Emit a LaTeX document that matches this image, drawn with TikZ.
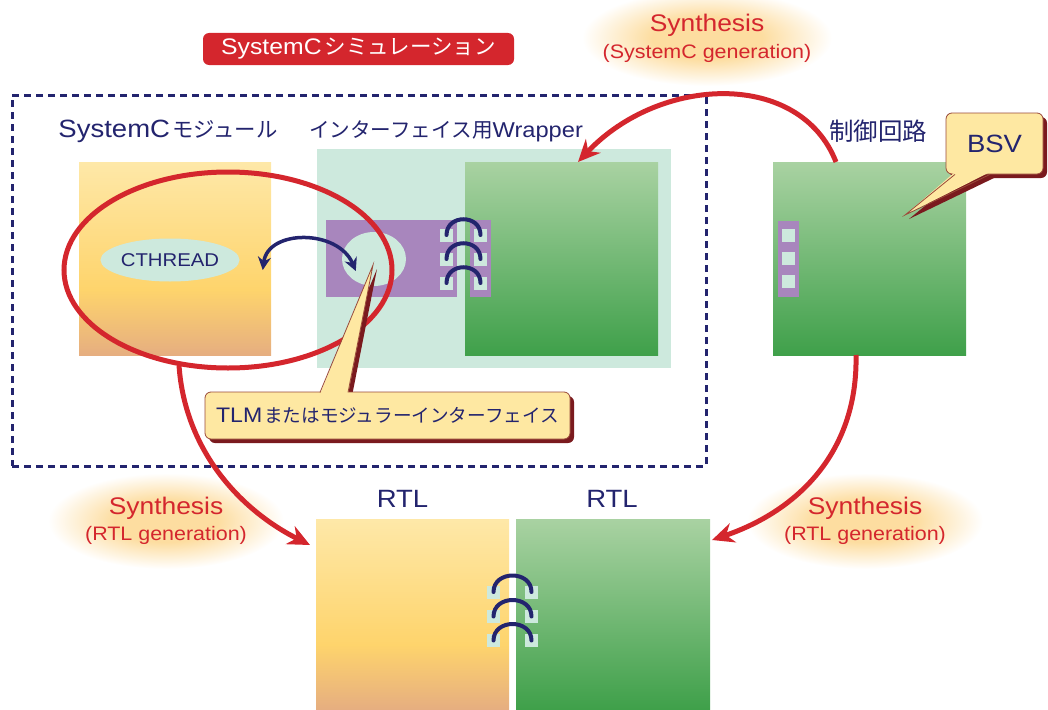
\documentclass[tikz,border=0pt]{standalone}
\usepackage{fontspec}
\setmainfont[FakeStretch=1.1]{Liberation Sans}
\newfontfamily\jp{Noto Sans CJK JP}
\usetikzlibrary{arrows.meta,shapes.geometric}

% Latin text at size #1, Japanese text at size #2
\newcommand\lat[2]{{\fontsize{#1}{#1}\selectfont #2}}
\newcommand\jtx[2]{{\jp\fontsize{#1}{#1}\selectfont #2}}

\definecolor{navy}{HTML}{23246E}
\definecolor{sred}{HTML}{D4262D}
\definecolor{mint}{HTML}{CDE9DD}
\definecolor{lilac}{HTML}{A886BD}
\definecolor{orgtop}{HTML}{FEE8A8}
\definecolor{orgmid}{HTML}{FED46C}
\definecolor{orgbot}{HTML}{E6AE80}
\definecolor{grntop}{HTML}{A9D2A2}
\definecolor{grnbot}{HTML}{3FA04A}
\definecolor{callfill}{HTML}{FEE8A2}
\definecolor{callline}{HTML}{9A4A3A}
\definecolor{callshadow}{HTML}{7A1A1E}
\definecolor{glowc}{HTML}{FDDDA0}

\pgfdeclareradialshading{glowshade}{\pgfpoint{0bp}{0bp}}{%
  color(0bp)=(glowc); color(11bp)=(glowc); color(25bp)=(white); color(50bp)=(white)}
\pgfdeclareverticalshading{orangeshade}{100bp}{%
  color(0bp)=(orgbot); color(25bp)=(orgbot); color(42bp)=(orgmid); color(75bp)=(orgtop); color(100bp)=(orgtop)}

\tikzset{
  box/.style={rectangle, inner sep=0pt, outer sep=0pt, anchor=north west},
  orangeblock/.style={box, shade, shading=orangeshade},
  greenblock/.style={box, top color=grntop, bottom color=grnbot},
  port/.style={rectangle, inner sep=0pt, fill=mint, minimum width=13pt, minimum height=13pt},
  strip/.style={box, fill=lilac},
  link/.style={draw=navy, line width=4pt, line cap=round},
  lbl/.style={text=navy, inner sep=0pt},
  synlbl/.style={text=sred, inner sep=0pt},
  synarrow/.style={draw=sred, line width=5pt, -{Stealth[length=22pt,width=20pt]}},
  callbox/.style={rectangle, rounded corners=6pt, fill=callfill, draw=callline, line width=0.8pt},
  callshade/.style={rectangle, rounded corners=6pt, fill=callshadow},
  frame/.style={draw=navy, line width=3pt, dash pattern=on 7pt off 5pt},
  txarrow/.style={draw=navy, line width=3.5pt, {Stealth[length=13pt,width=13pt]}-{Stealth[length=13pt,width=13pt]}},
}

\begin{document}
\begin{tikzpicture}[x=1pt,y=-1pt]
\useasboundingbox (0,0) rectangle (1048,709);

% soft glows behind the synthesis labels
\shade[shading=glowshade] (707,38) ellipse [x radius=125, y radius=48];
\shade[shading=glowshade] (166,521) ellipse [x radius=118, y radius=48];
\shade[shading=glowshade] (865,521) ellipse [x radius=118, y radius=48];

% simulation title
\node[rectangle, rounded corners=6pt, fill=sred, text=white, inner sep=0pt,
      minimum width=311pt, minimum height=32pt]
      (simtitle) at (358.5,49) {\lat{22.5}{SystemC}\hspace{3pt}\jtx{21.5}{シミュレーション}};

% simulation boundary
\node[box, frame, minimum width=694pt, minimum height=371pt] (simframe) at (12,95) {};

% SystemC module
\node[orangeblock, minimum width=192pt, minimum height=193pt] (scmod) at (79,162) {};
\node[ellipse, fill=mint, inner sep=0pt, minimum width=115pt, minimum height=43pt,
      text=navy] (cthread) at (170,260) {\lat{18.5}{CTHREAD}};

% interface wrapper
\node[box, fill=mint, minimum width=354pt, minimum height=219pt] (wrap) at (317,149) {};
\node[greenblock, minimum width=193pt, minimum height=193pt] (g1) at (465,162) {};
\node[strip, minimum width=131pt, minimum height=77pt] (ifbox) at (326,220) {};
\node[ellipse, fill=mint, inner sep=0pt, minimum width=64pt, minimum height=54pt] (ifell) at (374,259) {};
\node[strip, minimum width=21pt, minimum height=77pt] (g1strip) at (470,220) {};

\node[port] (wl1) at (446.5,235) {};
\node[port] (wl2) at (446.5,259) {};
\node[port] (wl3) at (446.5,283) {};
\node[port] (wr1) at (480.5,235) {};
\node[port] (wr2) at (480.5,259) {};
\node[port] (wr3) at (480.5,283) {};
\foreach \i in {1,2,3}
  \draw[link] (wl\i.center) .. controls +(0,-21) and +(0,-21) .. (wr\i.center);

% transaction between CTHREAD and the wrapper
\draw[txarrow] ([xshift=23pt,yshift=-10pt]cthread.east) .. controls (268,229) and (338,229) .. ([xshift=14pt,yshift=-12pt]ifell.west);

% control circuit
\node[greenblock, minimum width=193pt, minimum height=193pt] (ctrl) at (773,162) {};
\node[strip, minimum width=21pt, minimum height=76pt] (ctrlstrip) at (778,221) {};
\node[port] (c1) at (788.5,235.5) {};
\node[port] (c2) at (788.5,258.5) {};
\node[port] (c3) at (788.5,281.5) {};

% generated RTL
\node[orangeblock, minimum width=193pt, minimum height=190pt] (rtlA) at (316,519) {};
\node[greenblock, minimum width=194pt, minimum height=190pt] (rtlB) at (516,519) {};
\node[port] (bl1) at (493.5,592) {};
\node[port] (bl2) at (493.5,616.5) {};
\node[port] (bl3) at (493.5,640.5) {};
\node[port] (br1) at (531.5,592) {};
\node[port] (br2) at (531.5,616.5) {};
\node[port] (br3) at (531.5,640.5) {};
\foreach \i in {1,2,3}
  \draw[link] (bl\i.center) .. controls +(0,-22) and +(0,-22) .. (br\i.center);

% red ring around the SystemC side
\node[ellipse, draw=sred, line width=5pt, inner sep=0pt,
      minimum width=328pt, minimum height=196pt] (ring) at (228,270) {};

% TLM callout
\node[callshade, minimum width=365pt, minimum height=47pt] (tlmshade) at (391.5,419.5) {};
\fill[callshadow] (324,396) -- (377,269) -- (352,396) -- cycle;
\node[callbox, minimum width=365pt, minimum height=47pt, text=navy] (tlm) at (387.5,415.5)
  {\lat{21}{TLM}\hspace{2pt}\jtx{18.6}{またはモジュラーインターフェイス}};
\coordinate (tlmtip) at (373,265);
\fill[callfill] (320,394) -- (tlmtip) -- (348,394) -- cycle;
\draw[callline, line width=0.8pt] (320,392.4) -- (tlmtip) -- (348,392.4);

% BSV callout
\node[callshade, minimum width=97pt, minimum height=61pt] (bsvshade) at (998.5,147.5) {};
\fill[callshadow] (959,178) -- (909,219) -- (994,178) -- cycle;
\node[callbox, minimum width=97pt, minimum height=61pt, text=navy] (bsv) at (994.5,143.5) {\lat{25}{BSV}};
\coordinate (bsvtip) at (905,215);
\fill[callfill] (955,172) -- (bsvtip) -- (990,172) -- cycle;
\draw[callline, line width=0.8pt] (955,174.4) -- (bsvtip) -- (990,174.4);

% synthesis flows
\draw[synarrow] ([xshift=-33.5pt]ctrl.north) .. controls (800,70) and (660,75) .. ([xshift=16.5pt]g1.north);
\draw[synarrow] (ring.-117) .. controls (185,450) and (240,510) .. ([xshift=-6pt,yshift=-26pt]rtlA.north west);
\draw[synarrow] ([xshift=-13.5pt]ctrl.south) .. controls (858,450) and (800,510) .. ([xshift=2pt,yshift=-21pt]rtlB.north east);

% labels
\node[lbl] (scmodlbl) at (168,131) {\lat{25}{SystemC}\hspace{2pt}\jtx{21.4}{モジュール}};
\node[lbl] (wraplbl) at (446,131) {\jtx{20.6}{インターフェイス用}\lat{21.5}{Wrapper}};
\node[lbl] (ctrllbl) at (878,131) {\jtx{24.5}{制御回路}};
\node[lbl] (rtlAlbl) at (402.5,499) {\lat{25}{RTL}};
\node[lbl] (rtlBlbl) at (612,499) {\lat{25}{RTL}};

\node[synlbl] (syn1) at (707,25) {\lat{24}{Synthesis}};
\node[synlbl] (syn1b) at (707,53) {\lat{19.5}{(SystemC generation)}};
\node[synlbl] (syn2) at (166,508) {\lat{24}{Synthesis}};
\node[synlbl] (syn2b) at (166,535) {\lat{19.5}{(RTL generation)}};
\node[synlbl] (syn3) at (865,508) {\lat{24}{Synthesis}};
\node[synlbl] (syn3b) at (865,535) {\lat{19.5}{(RTL generation)}};
\end{tikzpicture}
\end{document}
